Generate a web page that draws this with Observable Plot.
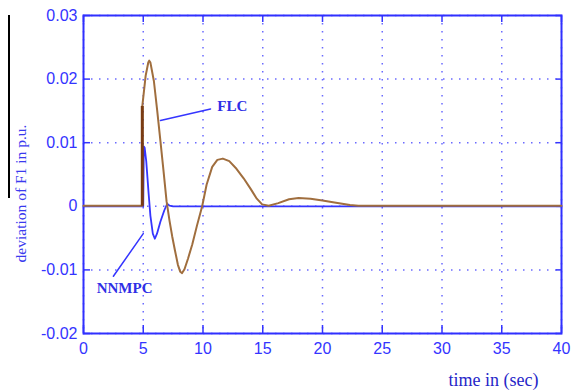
<!DOCTYPE html>
<html>
<head>
<meta charset="utf-8">
<script src="https://cdn.jsdelivr.net/npm/d3@7"></script>
<script src="https://cdn.jsdelivr.net/npm/@observablehq/plot@0.6"></script>
<style>
  html, body { margin: 0; padding: 0; background: #fff; }
  #wrap { position: relative; width: 571px; height: 391px; overflow: hidden; }
  #bar { position: absolute; left: 8px; top: 15px; width: 1.5px; height: 183px; background: #000; }
</style>
</head>
<body>
<div id="wrap"><div id="bar"></div></div>
<script>
// Tick values
const xTicks = [0, 5, 10, 15, 20, 25, 30, 35, 40];
const yTicks = [-0.02, -0.01, 0, 0.01, 0.02, 0.03];

// FLC series (time in sec, deviation in p.u.)
const flcT = [0, 4.92, 4.92, 5.2, 5.42, 5.5, 5.6, 5.89, 6.17, 6.44, 6.7, 6.95, 7.2, 7.42, 7.65, 7.9, 8.1, 8.25, 8.45, 8.75, 9.1, 9.5, 9.93, 10.3, 10.77, 11.2, 11.66, 12.2, 12.8, 13.4, 14.0, 14.5, 14.95, 15.5, 16.3, 17.2, 18.0, 19.0, 20.0, 21.0, 22.3, 23.0, 40];
const flcY = [0.0001, 0.0001, 0.0157, 0.0205, 0.0226, 0.0229, 0.0226, 0.0197, 0.015, 0.0102, 0.0055, 0.0008, -0.0023, -0.0047, -0.0069, -0.0092, -0.0103, -0.0105, -0.0099, -0.0082, -0.006, -0.003, 0.0, 0.0034, 0.0062, 0.0073, 0.0075, 0.0071, 0.0059, 0.0044, 0.0027, 0.0012, 0.0003, 0.0001, 0.0005, 0.0011, 0.0013, 0.0012, 0.0009, 0.0006, 0.0002, 0.0001, 0.0001];

// NNMPC series
const nnT = [0, 5.0, 5.05, 5.12, 5.25, 5.45, 5.6, 5.8, 5.97, 6.15, 6.44, 6.75, 7.0, 7.2, 7.5, 40];
const nnY = [0, 0, 0.0094, 0.0092, 0.0071, 0.002, -0.0015, -0.0043, -0.0051, -0.0043, -0.0024, -0.0007, 0.0004, 0.0001, 0, 0];

// Initial step of FLC (dark segment)
const stepT = [4.92];
const stepY1 = [0];
const stepY2 = [0.0157];

// Annotations
const labels = ["FLC", "NNMPC"];
const labelT = [11.2, 1.1];
const labelY = [0.0150, -0.0137];
const pointerFLC = {t: [6.44, 10.63], y: [0.0135, 0.0153]};
const pointerNN = {t: [2.5, 5.0], y: [-0.011, -0.0043]};

const axisLabelX = "time in (sec)";
const axisLabelY = "deviation of F1 in p.u.";

const flc = flcT.map((t, i) => ({t, v: flcY[i]}));
const nn = nnT.map((t, i) => ({t, v: nnY[i]}));
const step = stepT.map((t, i) => ({t, y1: stepY1[i], y2: stepY2[i]}));
const ann = labels.map((s, i) => ({s, t: labelT[i], v: labelY[i]}));
const pF = pointerFLC.t.map((t, i) => ({t, v: pointerFLC.y[i]}));
const pN = pointerNN.t.map((t, i) => ({t, v: pointerNN.y[i]}));

const blue = "#3434ff";
const gridBlue = "#5a5aff";
const fmtY = d => d === 0 ? "0" : d.toFixed(2);
const serif = "'Liberation Serif', 'Times New Roman', serif";

const chart = Plot.plot({
  width: 571,
  height: 391,
  marginLeft: 83,
  marginRight: 10,
  marginTop: 15,
  marginBottom: 58,
  style: {background: "#fff", fontFamily: "'Liberation Sans', Arial, sans-serif", fontSize: "16px", color: blue, overflow: "visible"},
  x: {domain: [0, 40], label: null},
  y: {domain: [-0.02, 0.03], label: null},
  marks: [
    Plot.gridX(xTicks, {stroke: gridBlue, strokeOpacity: 0.9, strokeWidth: 1.5, strokeDasharray: "1.5,6.5"}),
    Plot.gridY(yTicks, {stroke: gridBlue, strokeOpacity: 0.9, strokeWidth: 1.5, strokeDasharray: "1.5,6.5"}),
    Plot.axisX(xTicks, {anchor: "bottom", tickSize: -8, tickPadding: 17, stroke: blue, fill: blue, strokeWidth: 1.5, tickFormat: d => String(d), fontSize: 16, label: null}),
    Plot.axisX(xTicks, {anchor: "top", tickSize: -6, tickPadding: 0, stroke: blue, strokeWidth: 1.5, tickFormat: () => "", label: null}),
    Plot.axisY(yTicks, {anchor: "left", tickSize: -7, tickPadding: 13, stroke: blue, fill: blue, strokeWidth: 1.5, tickFormat: fmtY, fontSize: 16, label: null}),
    Plot.axisY(yTicks, {anchor: "right", tickSize: -6, tickPadding: 0, stroke: blue, strokeWidth: 1.5, tickFormat: () => "", label: null}),
    Plot.frame({stroke: "#3030ff", strokeWidth: 2}),
    Plot.line(nn, {x: "t", y: "v", stroke: "#3535ff", strokeWidth: 1.8}),
    Plot.line(flc, {x: "t", y: "v", stroke: "#a06e3e", strokeWidth: 2, curve: "linear"}),
    Plot.ruleX(step, {x: "t", y1: "y1", y2: "y2", stroke: "#7a3c12", strokeWidth: 3}),
    Plot.line(pF, {x: "t", y: "v", stroke: "#3535ff", strokeWidth: 1.5}),
    Plot.line(pN, {x: "t", y: "v", stroke: "#3535ff", strokeWidth: 1.5}),
    Plot.text(ann, {x: "t", y: "v", text: "s", textAnchor: "start", lineAnchor: "bottom", fill: "#2f2fe6", fontSize: 15, fontWeight: "bold", fontFamily: serif, letterSpacing: "2.2px"}),
    Plot.text([axisLabelX], {frameAnchor: "bottom-right", text: d => d, textAnchor: "end", lineAnchor: "middle", dx: -23, dy: 47, fill: "#2626c8", fontSize: 18, fontFamily: serif}),
    Plot.text([axisLabelY], {frameAnchor: "left", text: d => d, rotate: -90, textAnchor: "middle", lineAnchor: "middle", dx: -62, dy: 19, fill: "#3a3aee", fontSize: 15.5, fontFamily: serif})
  ]
});
document.getElementById("wrap").appendChild(chart);
</script>
</body>
</html>
